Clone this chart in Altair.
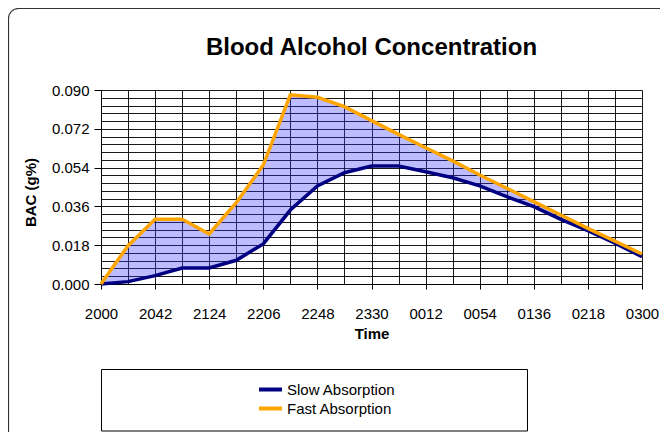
import altair as alt
import pandas as pd

times = ["2000", "2021", "2042", "2103", "2124", "2145", "2206", "2227", "2248", "2309", "2330",
         "2351", "0012", "0033", "0054", "0115", "0136", "0157", "0218", "0239", "0300"]
slow = [0.000, 0.0011, 0.0039, 0.0074, 0.0074, 0.0110, 0.0186, 0.0343, 0.0455, 0.0516, 0.0547,
        0.0547, 0.0521, 0.0493, 0.0455, 0.0405, 0.0359, 0.0300, 0.0247, 0.0189, 0.0127]
fast = [0.000, 0.0178, 0.0300, 0.0300, 0.0232, 0.0377, 0.0552, 0.0877, 0.0866, 0.0823, 0.0758,
        0.0694, 0.0632, 0.0571, 0.0506, 0.0444, 0.0382, 0.0320, 0.0258, 0.0199, 0.0139]
y_grid = [0.0, 0.0036, 0.0072, 0.0108, 0.0144, 0.018, 0.0216, 0.0252, 0.0288, 0.0324, 0.036,
          0.0396, 0.0432, 0.0468, 0.0504, 0.054, 0.0576, 0.0612, 0.0648, 0.0684, 0.072,
          0.0756, 0.0792, 0.0828, 0.0864, 0.090]
series = ["Slow Absorption", "Fast Absorption"]
colors = ["#000080", "#FFA500"]
title_text = "Blood Alcohol Concentration"

FONT = "Liberation Sans"
W = 541

df = pd.DataFrame({"Time": times, "Slow Absorption": slow, "Fast Absorption": fast})

label_list = "[" + ",".join(f"'{t}'" for t in times) + "]"
major_x = f"indexof({label_list}, datum.value) % 2 == 0"
major_y = "abs(datum.value / 0.018 - round(datum.value / 0.018)) < 0.001"

x_enc = alt.X(
    "Time:O", sort=times, scale=alt.Scale(padding=0),
    axis=alt.Axis(
        title="Time", labelAngle=0, labelOverlap=False,
        labelExpr=f"{major_x} ? datum.label : ''",
        tickOpacity={"condition": {"test": major_x, "value": 1}, "value": 0},
        tickSize=5, tickColor="#000", labelPadding=17,
        grid=True, gridColor="#000", gridOpacity=0.9, gridWidth=1,
        domainColor="#000", labelFont=FONT, labelFontSize=15, labelColor="#000",
        titleFont=FONT, titleFontSize=15, titleFontWeight="bold", titleColor="#000",
        titleY=49, titleBaseline="middle",
    ),
)
y_axis = alt.Axis(
    title="BAC (g%)", values=y_grid,
    labelExpr=f"{major_y} ? format(datum.value, '.3f') : ''",
    tickOpacity={"condition": {"test": major_y, "value": 1}, "value": 0},
    tickSize=7, tickColor="#000", labelPadding=5,
    grid=True, gridColor="#000", gridOpacity=0.9, gridWidth=1,
    domainColor="#000", labelFont=FONT, labelFontSize=15, labelColor="#000",
    titleFont=FONT, titleFontSize=15, titleFontWeight="bold", titleColor="#000",
    titleX=-71, titleY=102, titleBaseline="middle", titleAngle=-90,
)
y_scale = alt.Scale(domain=[0, 0.09], nice=False)

base = alt.Chart(df)

area = base.mark_area(fill="#3333FF", fillOpacity=0.33, interpolate="linear").encode(
    x=x_enc,
    y=alt.Y("Fast Absorption:Q", scale=y_scale, axis=y_axis),
    y2="Slow Absorption:Q",
)

lines = base.transform_fold(series, as_=["Series", "BAC"]).mark_line(strokeWidth=3.5).encode(
    x=x_enc,
    y=alt.Y("BAC:Q", scale=y_scale, axis=y_axis),
    color=alt.Color(
        "Series:N", scale=alt.Scale(domain=series, range=colors),
        legend=alt.Legend(
            title=None, orient="none", legendX=156, legendY=290,
            symbolType="stroke", symbolStrokeWidth=4, symbolSize=529,
            labelFont=FONT, labelFontSize=15, labelColor="#000", labelOffset=3,
            clipHeight=19, rowPadding=0, padding=0,
        ),
    ),
)

one = pd.DataFrame({"title": [title_text]})
frame = alt.Chart(one).mark_rect(
    fill=None, stroke="#333", strokeWidth=1.2, cornerRadius=10
).encode(
    x=alt.value(-92.5), x2=alt.value(600), y=alt.value(-81.5), y2=alt.value(400)
)
legend_box = alt.Chart(one).mark_rect(fill=None, stroke="#000", strokeWidth=1).encode(
    x=alt.value(0.5), x2=alt.value(426.5), y=alt.value(279.5), y2=alt.value(341)
)
title = alt.Chart(one).mark_text(
    font=FONT, fontSize=24, fontWeight="bold", color="#000",
    align="center", baseline="alphabetic",
).encode(text="title:N", x=alt.value(W / 2), y=alt.value(-35))

chart = alt.layer(frame, legend_box, title, area, lines).properties(
    width=W, height=194,
    autosize=alt.AutoSizeParams(type="none"),
    padding={"left": 93, "top": 82, "right": 652 - 93 - W, "bottom": 148},
).configure_view(strokeWidth=0)

chart.save("out.html", embed_options={"renderer": "svg", "actions": False})
